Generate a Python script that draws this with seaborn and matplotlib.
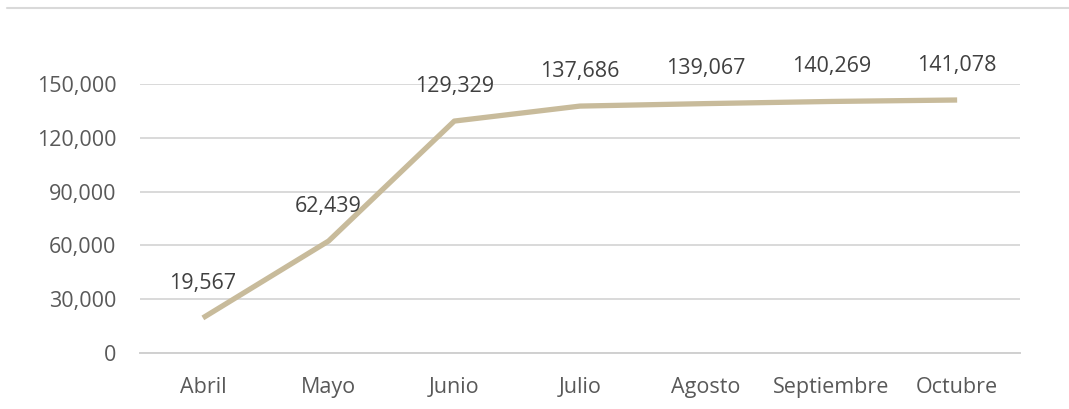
import matplotlib
matplotlib.use("Agg")
import matplotlib.pyplot as plt
import seaborn as sns
import pandas as pd
import numpy as np
from matplotlib.lines import Line2D
from matplotlib.ticker import FuncFormatter, FixedLocator

months = ["Abril", "Mayo", "Junio", "Julio", "Agosto", "Septiembre", "Octubre"]
values = [19567, 62439, 129329, 137686, 139067, 140269, 141078]
yticks = [0, 30000, 60000, 90000, 120000, 150000]

sns.set_theme(style="white")
plt.rcParams['font.family'] = ['Open Sans', 'DejaVu Sans']

fig = plt.figure(figsize=(10.69, 4.09), dpi=100)
ax = fig.add_axes([140/1069, 1-353/409, (1020-140)/1069, (353-84)/409])

df = pd.DataFrame({"mes": months, "valor": values})
df["x"] = np.arange(len(months))
sns.lineplot(data=df, x="x", y="valor", ax=ax, color="#C8BB9B", linewidth=3.8,
             clip_on=False, solid_capstyle="butt")

FS = 15.5
ax.set_xlim(-0.5, len(months) - 0.5)
ax.set_ylim(0, 150000)
ax.set_yticks(yticks)
ax.yaxis.set_major_formatter(FuncFormatter(lambda v, p: f"{int(v):,}"))
ax.set_xticks(df["x"])
ax.set_xticklabels(months)
ax.xaxis.set_minor_locator(FixedLocator(np.arange(-0.5, len(months), 1.0)))
ax.tick_params(axis="x", which="major", length=0, pad=17, labelsize=FS, labelcolor="#595959")
ax.tick_params(axis="x", which="minor", length=5, width=1.2, color="#D0D0D0", direction="out")
ax.tick_params(axis="y", length=0, pad=17, labelsize=FS, labelcolor="#595959")
ax.grid(axis="y", color="#D9D9D9", linewidth=1.4)
ax.set_axisbelow(True)
for s in ["top", "right", "left"]:
    ax.spines[s].set_visible(False)
ax.spines["bottom"].set_color("#D0D0D0")
ax.spines["bottom"].set_linewidth(1.4)
ax.set_xlabel("")
ax.set_ylabel("")

for xi, v in zip(df["x"], values):
    ax.annotate(f"{v:,}", (xi, v), xytext=(0, 25), textcoords="offset points",
                ha="center", va="center", fontsize=FS, color="#404040",
                annotation_clip=False)

fig.add_artist(Line2D([7/1069, 1.0], [1-8/409, 1-8/409], transform=fig.transFigure,
                      color="#D9D9D9", linewidth=1.5))

fig.savefig("out.png", dpi=100, facecolor="white")
